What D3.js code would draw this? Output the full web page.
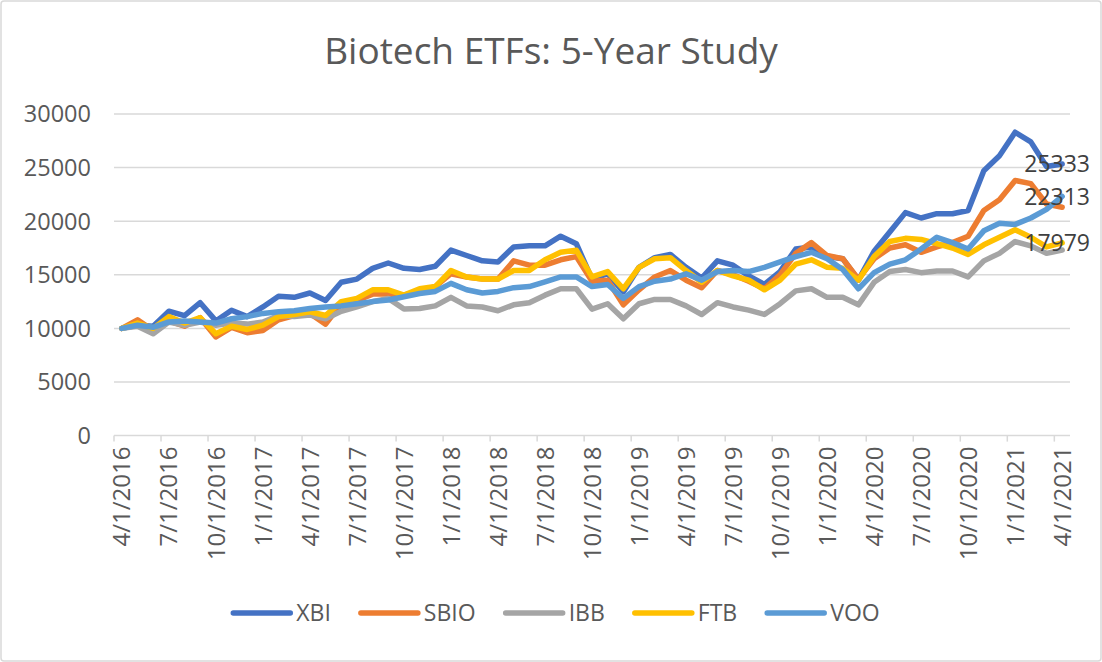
<!DOCTYPE html>
<html>
<head>
<meta charset="utf-8">
<script src="https://cdn.jsdelivr.net/npm/d3@7"></script>
<style>
  body { margin: 0; background: #fff; }
  svg text { font-family: "Open Sans", "Noto Sans", sans-serif; }
</style>
</head>
<body>
<div id="chart"></div>
<script>
// series names + colours (Excel office palette)
const seriesNames = ['XBI', 'SBIO', 'IBB', 'FTB', 'VOO'];
const seriesColors = ['#4472C4', '#ED7D31', '#A5A5A5', '#FFC000', '#5B9BD5'];

// monthly values 4/1/2016 .. 4/1/2021
const xbi = [10000, 10300, 10200, 11600, 11200, 12400, 10700, 11700, 11100, 12000,
    13000, 12900, 13300, 12600, 14300, 14600, 15600, 16100, 15600, 15500,
    15800, 17300, 16800, 16300, 16200, 17600, 17700, 17700, 18600, 17900,
    14600, 15100, 13400, 15700, 16600, 16900, 15700, 14700, 16300, 15900,
    14900, 14100, 15300, 17400, 17600, 16700, 16500, 14500, 17200, 19000,
    20800, 20300, 20700, 20700, 21000, 24700, 26100, 28300, 27400, 25100, 25333];
const sbio = [10000, 10800, 9800, 10700, 10200, 11000, 9200, 10100, 9600, 9800,
    10800, 11200, 11400, 10400, 12300, 12600, 13200, 13200, 13100, 13500,
    13900, 15100, 14800, 14600, 14600, 16300, 15900, 15900, 16400, 16700,
    14400, 14500, 12200, 13600, 14800, 15400, 14500, 13800, 15400, 15000,
    14400, 13700, 15000, 17000, 18000, 16800, 16500, 14600, 16500, 17500,
    17800, 17100, 17600, 18000, 18600, 21000, 22000, 23800, 23500, 21600, 21300];
const ibb = [10000, 10200, 9500, 10600, 10300, 10600, 10300, 10500, 10400, 10600,
    11200, 11100, 11250, 10900, 11600, 12000, 12500, 12800, 11800, 11850,
    12100, 12900, 12100, 12000, 11650, 12200, 12400, 13100, 13700, 13700,
    11800, 12300, 10900, 12300, 12700, 12700, 12100, 11300, 12400, 12000,
    11700, 11300, 12300, 13500, 13700, 12900, 12900, 12200, 14300, 15300,
    15500, 15200, 15350, 15350, 14800, 16300, 17000, 18100, 17700, 17000, 17300];
const ftb = [10000, 10500, 10000, 11100, 10500, 11000, 9500, 10200, 9900, 10300,
    11100, 11300, 11550, 11200, 12500, 12800, 13600, 13600, 13100, 13700,
    13900, 15400, 14800, 14600, 14600, 15400, 15400, 16400, 17100, 17300,
    14800, 15300, 13700, 15700, 16500, 16600, 15400, 14300, 15400, 14900,
    14500, 13600, 14500, 16000, 16400, 15700, 15600, 14500, 16700, 18100,
    18400, 18300, 17900, 17500, 16900, 17800, 18500, 19200, 18500, 17600, 17979];
const voo = [10000, 10300, 10100, 10600, 10700, 10600, 10500, 10900, 11100, 11400,
    11550, 11650, 11850, 12000, 12100, 12300, 12500, 12650, 12950, 13250,
    13450, 14200, 13600, 13300, 13450, 13800, 13900, 14350, 14800, 14800,
    13900, 14100, 12800, 13900, 14400, 14600, 15100, 14500, 15300, 15400,
    15300, 15700, 16200, 16700, 17100, 16500, 15500, 13700, 15200, 16000,
    16400, 17400, 18500, 18000, 17400, 19100, 19800, 19700, 20300, 21100, 22313];

const allSeries = [xbi, sbio, ibb, ftb, voo];
// only these series carry a label on their last point
const labelled = ['XBI', 'VOO', 'FTB'];

const yTicks = [0, 5000, 10000, 15000, 20000, 25000, 30000];
const months = d3.timeMonth.range(new Date(2016, 3, 1), new Date(2021, 4, 1));
const fmtDate = d3.timeFormat('%-m/%-d/%Y');

const width = 1102;
const height = 662;
const plot = { left: 114, right: 1070, top: 114, bottom: 435.6 };
const textColor = '#595959';
const gridColor = '#d9d9d9';

const svg = d3.select('#chart')
    .append('svg')
    .attr('width', width)
    .attr('height', height);

svg.append('rect')
    .attr('x', 1)
    .attr('y', 1)
    .attr('width', width - 2)
    .attr('height', height - 2)
    .attr('rx', 3)
    .attr('fill', '#fff')
    .attr('stroke', gridColor)
    .attr('stroke-width', 1.5);

svg.append('text')
    .attr('x', 551)
    .attr('y', 64)
    .attr('text-anchor', 'middle')
    .style('fill', textColor)
    .style('font-size', '37px')
    .text('Biotech ETFs: 5-Year Study');

const x = d3.scaleBand()
    .domain(d3.range(months.length))
    .range([plot.left, plot.right]);
const cx = i => x(i) + x.bandwidth() / 2;

const y = d3.scaleLinear()
    .domain([0, 30000])
    .range([plot.bottom, plot.top]);

// gridlines
svg.selectAll('.grid')
    .data(yTicks)
    .enter()
    .append('line')
    .attr('class', 'grid')
    .attr('x1', plot.left)
    .attr('x2', plot.right)
    .attr('y1', d => y(d))
    .attr('y2', d => y(d))
    .style('stroke', gridColor)
    .style('stroke-width', 1.5);

// y labels
svg.selectAll('.ylab')
    .data(yTicks)
    .enter()
    .append('text')
    .attr('class', 'ylab')
    .attr('x', 91)
    .attr('y', d => y(d))
    .attr('dy', '0.36em')
    .attr('text-anchor', 'end')
    .style('fill', textColor)
    .style('font-size', '23.5px')
    .text(d => d);

// x axis: category axis, ticks between categories every 3 months
const tickIdx = d3.range(0, months.length, 3);

svg.selectAll('.xtick')
    .data(tickIdx)
    .enter()
    .append('line')
    .attr('class', 'xtick')
    .attr('x1', d => x(d))
    .attr('x2', d => x(d))
    .attr('y1', plot.bottom)
    .attr('y2', plot.bottom + 6)
    .style('stroke', gridColor)
    .style('stroke-width', 1.5);

svg.selectAll('.xlab')
    .data(tickIdx)
    .enter()
    .append('text')
    .attr('class', 'xlab')
    .attr('transform', d => `translate(${cx(d)},${plot.bottom + 11}) rotate(-90)`)
    .attr('dy', '0.36em')
    .attr('text-anchor', 'end')
    .style('fill', textColor)
    .style('font-size', '24px')
    .text(d => fmtDate(months[d]));

// lines
const line = d3.line()
    .x((d, i) => cx(i))
    .y(d => y(d));

allSeries.forEach((s, k) => {
    svg.append('path')
        .datum(s)
        .attr('fill', 'none')
        .attr('stroke', seriesColors[k])
        .attr('stroke-width', 5.5)
        .attr('stroke-linejoin', 'round')
        .attr('stroke-linecap', 'round')
        .attr('d', line);
});

// end labels
allSeries.forEach((s, k) => {
    if (!labelled.includes(seriesNames[k])) return;
    const last = s.length - 1;
    svg.append('text')
        .attr('x', cx(last) - 5)
        .attr('y', y(s[last]))
        .attr('dy', '0.36em')
        .attr('text-anchor', 'middle')
        .style('fill', '#404040')
        .style('font-size', '23px')
        .text(s[last]);
});

// legend, centred
const legend = svg.append('g');
let lx = 0;
seriesNames.forEach((name, k) => {
    const item = legend.append('g').attr('transform', `translate(${lx},0)`);
    item.append('line')
        .attr('x1', 3)
        .attr('x2', 60)
        .attr('y1', 0)
        .attr('y2', 0)
        .attr('stroke', seriesColors[k])
        .attr('stroke-width', 5.5)
        .attr('stroke-linecap', 'round');
    const t = item.append('text')
        .attr('x', 66)
        .attr('dy', '0.36em')
        .style('fill', textColor)
        .style('font-size', '23px')
        .text(name);
    lx += 66 + t.node().getComputedTextLength() + 27;
});
const legendW = lx - 27;
legend.attr('transform', `translate(${555 - legendW / 2},613)`);
</script>
</body>
</html>
